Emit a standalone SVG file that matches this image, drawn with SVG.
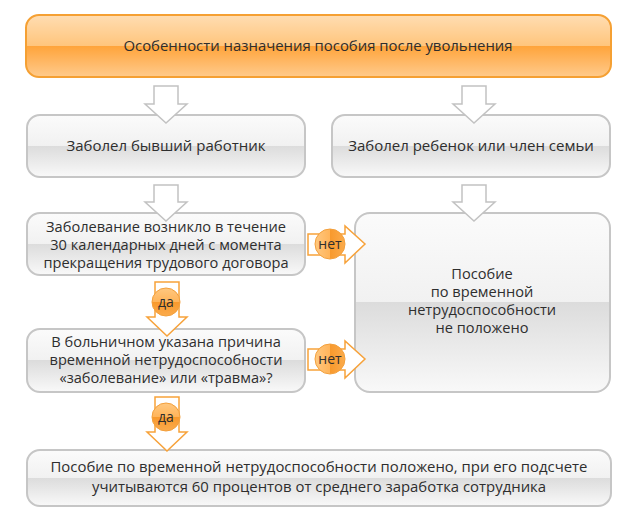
<svg xmlns="http://www.w3.org/2000/svg" width="640" height="525" viewBox="0 0 640 525">
<defs>
<linearGradient id="gGray" x1="0" y1="0" x2="0" y2="1">
<stop offset="0" stop-color="#fbfbfb"/>
<stop offset="0.5" stop-color="#f1f1f1"/>
<stop offset="0.5" stop-color="#dcdcdc"/>
<stop offset="0.78" stop-color="#ececec"/>
<stop offset="1" stop-color="#f9f9f9"/>
</linearGradient>
<linearGradient id="gOrange" x1="0" y1="0" x2="0" y2="1">
<stop offset="0" stop-color="#ffddb2"/>
<stop offset="0.5" stop-color="#ffc57c"/>
<stop offset="0.5" stop-color="#ffa43a"/>
<stop offset="0.8" stop-color="#ffbb6c"/>
<stop offset="1" stop-color="#ffcb8c"/>
</linearGradient>
<linearGradient id="gNo" x1="0" y1="0" x2="1" y2="0">
<stop offset="0" stop-color="#ffc880"/>
<stop offset="0.5" stop-color="#ffb45a"/>
<stop offset="0.5" stop-color="#f8992c"/>
<stop offset="1" stop-color="#fbab4c"/>
</linearGradient>
<linearGradient id="gYes" x1="0" y1="0" x2="0" y2="1">
<stop offset="0" stop-color="#ffc880"/>
<stop offset="0.5" stop-color="#ffb45a"/>
<stop offset="0.5" stop-color="#f8992c"/>
<stop offset="1" stop-color="#fbab4c"/>
</linearGradient>
</defs>
<style>
.box{fill:url(#gGray);stroke:#c6c6c6;stroke-width:2}
.title{fill:url(#gOrange);stroke:#f5a033;stroke-width:2}
.t{font-family:"Open Sans","Noto Sans",sans-serif;font-size:15px;fill:#2e2e2e;text-anchor:middle}
.tm{font-family:"Open Sans","Noto Sans",sans-serif;font-size:14.6px;fill:#2e2e2e;text-anchor:middle}
.tt{font-family:"Open Sans","Noto Sans",sans-serif;font-size:14.9px;fill:#2e2e2e;text-anchor:middle}
.ga{fill:#fff;stroke:#c2c2c2;stroke-width:1.5;stroke-linejoin:miter}
.oa{fill:#fff;stroke:#f7a23a;stroke-width:1.5;stroke-linejoin:miter}
.no{fill:url(#gNo);stroke:#f3a03c;stroke-width:1}
.yes{fill:url(#gYes);stroke:#f3a03c;stroke-width:1}
.ct{font-family:"Open Sans","Noto Sans",sans-serif;font-size:14px;fill:#2e2e2e;text-anchor:middle}
</style>
<rect width="640" height="525" fill="#fff"/>
<g id="title">
<rect class="title" x="26" y="15" width="585" height="62" rx="13"/>
<text class="tt" x="318" y="51">Особенности назначения пособия после увольнения</text>
</g>
<g id="n-worker">
<rect class="box" x="27" y="115" width="278" height="62" rx="13"/>
<text class="t" x="166" y="151">Заболел бывший работник</text>
</g>
<g id="n-family">
<rect class="box" x="332" y="115" width="278" height="62" rx="13"/>
<text class="t" x="471" y="151">Заболел ребенок или член семьи</text>
</g>
<g id="n-30days">
<rect class="box" x="27" y="213" width="278" height="62" rx="13"/>
<text class="tm" x="166" y="232">Заболевание возникло в течение</text>
<text class="tm" x="166" y="250">30 календарных дней с момента</text>
<text class="tm" x="166" y="268">прекращения трудового договора</text>
</g>
<g id="n-denied">
<rect class="box" x="355" y="213" width="255" height="179" rx="15"/>
<text class="tm" x="482" y="279">Пособие</text>
<text class="tm" x="482" y="297">по временной</text>
<text class="tm" x="482" y="315">нетрудоспособности</text>
<text class="tm" x="482" y="333">не положено</text>
</g>
<g id="n-reason">
<rect class="box" x="27" y="329" width="278" height="63" rx="13"/>
<text class="tm" x="166" y="347">В больничном указана причина</text>
<text class="tm" x="166" y="365">временной нетрудоспособности</text>
<text class="tm" x="166" y="383">«заболевание» или «травма»?</text>
</g>
<g id="n-granted">
<rect class="box" x="27" y="450" width="584" height="56" rx="13"/>
<text class="tt" x="319" y="472">Пособие по временной нетрудоспособности положено, при его подсчете</text>
<text class="tt" x="319" y="492">учитываются 60 процентов от среднего заработка сотрудника</text>
</g>
<g id="connectors">
<path class="ga" d="M154,86 H178 V104 H187 L166,123 L145,104 H154 Z"/>
<path class="ga" d="M462,86 H486 V104 H495 L474,123 L453,104 H462 Z"/>
<path class="ga" d="M154,185 H178 V202 H187 L166,221 L145,202 H154 Z"/>
<path class="ga" d="M462,185 H486 V202 H495 L474,221 L453,202 H462 Z"/>
<path class="oa" d="M155,282 H179 V317 H187 L167,336 L147,317 H155 Z"/>
<path class="oa" d="M155,397 H179 V432 H187 L167,451 L147,432 H155 Z"/>
<path class="oa" d="M308,234 H345 V226 L365,244 L345,263 V255 H308 Z"/>
<path class="oa" d="M308,349 H345 V341 L365,359 L345,378 V370 H308 Z"/>
<circle class="yes" cx="166" cy="302" r="14"/>
<text class="ct" x="166" y="307">да</text>
<circle class="yes" cx="166" cy="417" r="14"/>
<text class="ct" x="166" y="422">да</text>
<circle class="no" cx="330" cy="244" r="15"/>
<text class="ct" x="330" y="249">нет</text>
<circle class="no" cx="330" cy="359" r="15"/>
<text class="ct" x="330" y="364">нет</text>
</g>
</svg>
